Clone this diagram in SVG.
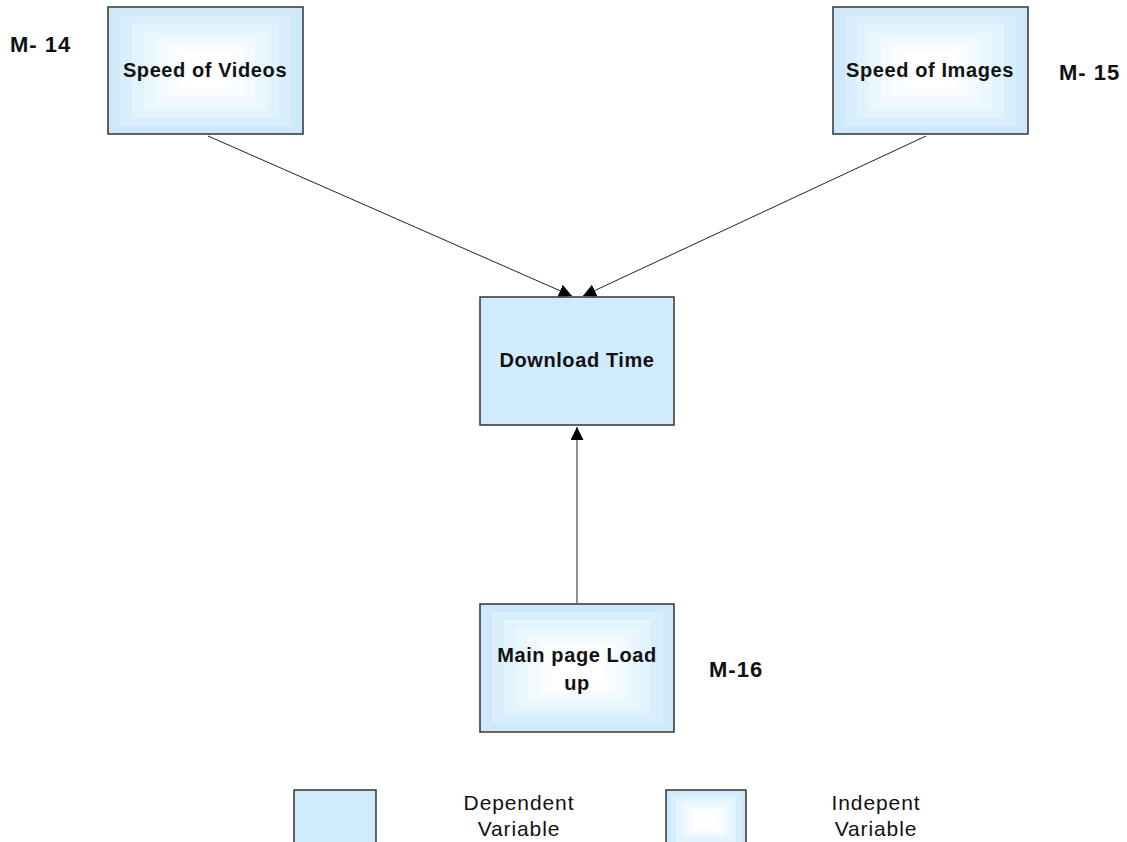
<svg xmlns="http://www.w3.org/2000/svg" width="1127" height="842" viewBox="0 0 1127 842">
  <style>
    .box { stroke: #333; stroke-width: 1.5; }
    .dep { fill: #d0ebfd; }
    .s0 { fill: #cfe9fb; }
    .s1 { fill: #d8eefc; }
    .s2 { fill: #e1f3fd; }
    .s3 { fill: #eaf7fe; }
    .s4 { fill: #f2faff; }
    .s5 { fill: #f9fdff; }
    .s6 { fill: #ffffff; }
    .lbl { font-family: "Liberation Sans", Arial, sans-serif; font-size: 20px; font-weight: bold; fill: #111; text-anchor: middle; letter-spacing: 0.6px; }
    .tag { font-family: "Liberation Sans", Arial, sans-serif; font-size: 22px; font-weight: bold; fill: #111; letter-spacing: 1px; }
    .leg { font-family: "Liberation Sans", Arial, sans-serif; font-size: 21px; fill: #111; text-anchor: middle; letter-spacing: 0.9px; }
    .edge { stroke: #222; stroke-width: 1; fill: none; }
  </style>
  <defs>
    <marker id="arrow" viewBox="0 0 10 10" refX="10" refY="5" markerWidth="13" markerHeight="13" markerUnits="userSpaceOnUse" orient="auto">
      <path d="M0,0 L10,5 L0,10 z" fill="#000"/>
    </marker>
    <!-- stepped fill used for independent variables -->
    <g id="steps">
      <rect class="s0" x="0" y="0" width="195" height="127"/>
      <rect class="s1" x="12" y="8" width="171" height="111"/>
      <rect class="s2" x="24" y="16" width="147" height="95"/>
      <rect class="s3" x="36" y="24" width="123" height="79"/>
      <rect class="s4" x="48" y="31" width="99" height="65"/>
      <rect class="s5" x="60" y="38" width="75" height="51"/>
      <rect class="s6" x="72" y="45" width="51" height="37"/>
    </g>
  </defs>

  <rect width="1127" height="842" fill="#fff"/>

  <g id="connectors">
    <line class="edge" x1="208" y1="136" x2="572" y2="296" marker-end="url(#arrow)"/>
    <line class="edge" x1="926" y1="136" x2="583" y2="296" marker-end="url(#arrow)"/>
    <line class="edge" x1="577" y1="603" x2="577" y2="427" marker-end="url(#arrow)"/>
  </g>

  <g id="speed-videos">
    <use href="#steps" x="108" y="7"/>
    <rect class="box" x="108" y="7" width="195" height="127" fill="none"/>
    <text class="lbl" x="205" y="77">Speed of Videos</text>
  </g>
  <text id="m14" class="tag" x="10" y="52">M- 14</text>

  <g id="speed-images">
    <use href="#steps" x="833" y="7"/>
    <rect class="box" x="833" y="7" width="195" height="127" fill="none"/>
    <text class="lbl" x="930" y="77">Speed of Images</text>
  </g>
  <text id="m15" class="tag" x="1059" y="80">M- 15</text>

  <g id="download-time">
    <rect class="box dep" x="480" y="297" width="194" height="128"/>
    <text class="lbl" x="577" y="367">Download Time</text>
  </g>

  <g id="main-page">
    <use href="#steps" x="480" y="604"/>
    <rect class="box" x="480" y="604" width="194" height="128" fill="none"/>
    <text class="lbl" x="577" y="662">Main page Load</text>
    <text class="lbl" x="577" y="690">up</text>
  </g>
  <text id="m16" class="tag" x="709" y="677">M-16</text>

  <g id="legend">
    <rect class="box dep" x="294" y="790" width="82" height="60"/>
    <text class="leg" x="519" y="810">Dependent</text>
    <text class="leg" x="519" y="836">Variable</text>
    <g transform="translate(666,790) scale(0.41,0.47)">
      <use href="#steps"/>
    </g>
    <rect class="box" x="666" y="790" width="80" height="60" fill="none"/>
    <text class="leg" x="876" y="810">Indepent</text>
    <text class="leg" x="876" y="836">Variable</text>
  </g>
</svg>
